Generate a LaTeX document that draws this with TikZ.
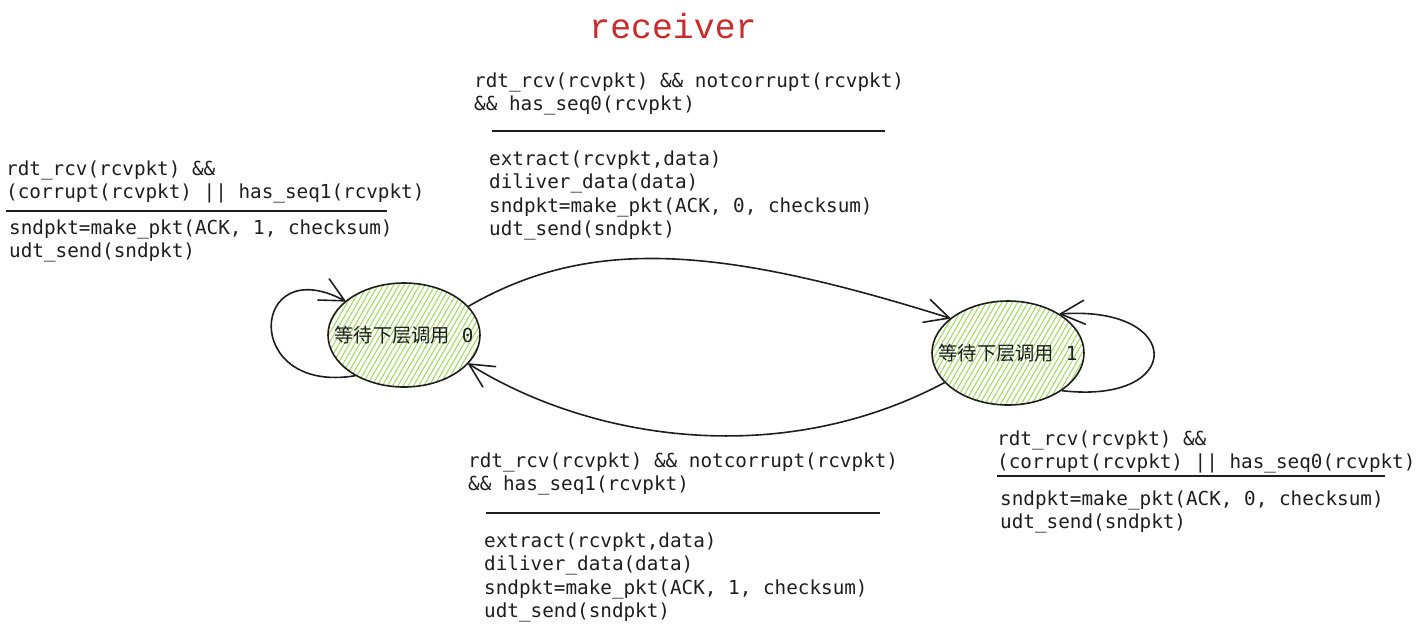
\documentclass[tikz,border=0pt]{standalone}
\usepackage{fontspec}
\setmonofont{DejaVu Sans Mono}
\newfontfamily\cjkfont{Noto Sans CJK SC}
\newfontfamily\titlefont{Liberation Mono}
\usetikzlibrary{arrows.meta,shapes.geometric,patterns.meta}
\definecolor{ink}{HTML}{1E1E1E}
\definecolor{hatch}{RGB}{165,216,100}
\definecolor{titlered}{HTML}{C92A2A}

\begin{document}
\begin{tikzpicture}[x=1pt,y=-1pt,
    state/.style={ellipse,draw=ink,line width=1.6pt,minimum width=152pt,minimum height=104pt,inner sep=0pt,
      pattern={Lines[angle=60,distance=4.5pt,line width=1.1pt]},pattern color=hatch,
      font=\fontsize{19.3}{23.6}\selectfont\ttfamily,text=ink},
    lbl/.style={anchor=base west,align=left,inner sep=0pt,text=ink,font=\fontsize{19.3}{23.6}\selectfont\ttfamily},
    rule/.style={draw=ink,line width=1.6pt},
    trans/.style={draw=ink,line width=1.6pt,-{Straight Barb[length=24pt,width=24pt,round]}}]
  \useasboundingbox (0,0) rectangle (1417,625);
  \node[text=titlered,font=\fontsize{34.8}{40}\selectfont\titlefont,anchor=base] (ttl) at (673,38) {receiver};
  % the two states
  \node[state] (s0) at (404,335) {\makebox[0pt]{{\cjkfont 等待下层调用} 0}};
  \node[state] (s1) at (1008,353) {\makebox[0pt]{{\cjkfont 等待下层调用} 1}};
  % transitions
  \draw[trans] (s0.24) .. controls (590,236) and (720,246) .. (s1.149);
  \draw[trans] (s1.205) .. controls (780,470) and (590,440) .. (s0.336);
  \draw[trans] (s0.220) .. controls (240,395) and (250,250) .. (s0.150);
  \draw[trans] (s1.325) .. controls (1185,405) and (1185,305) .. (s1.37);
  % 0 -> 1 (base = last line)
  \node[lbl] (g01) at (474,110.6) {rdt\_rcv(rcvpkt) \&\& notcorrupt(rcvpkt)\\\&\& has\_seq0(rcvpkt)};
  \draw[rule] (492,131) -- (885,131);
  \node[lbl] (a01) at (489,235.8) {extract(rcvpkt,data)\\diliver\_data(data)\\sndpkt=make\_pkt(ACK, 0, checksum)\\udt\_send(sndpkt)};
  % 0 -> 0
  \node[lbl] (g00) at (6,198.6) {rdt\_rcv(rcvpkt) \&\&\\(corrupt(rcvpkt) || has\_seq1(rcvpkt)};
  \draw[rule] (6,211) -- (387,211);
  \node[lbl] (a00) at (9,257.6) {sndpkt=make\_pkt(ACK, 1, checksum)\\udt\_send(sndpkt)};
  % 1 -> 0
  \node[lbl] (g10) at (468,490.6) {rdt\_rcv(rcvpkt) \&\& notcorrupt(rcvpkt)\\\&\& has\_seq1(rcvpkt)};
  \draw[rule] (486,513) -- (880,513);
  \node[lbl] (a10) at (484,617.8) {extract(rcvpkt,data)\\diliver\_data(data)\\sndpkt=make\_pkt(ACK, 1, checksum)\\udt\_send(sndpkt)};
  % 1 -> 1
  \node[lbl] (g11) at (997,468.6) {rdt\_rcv(rcvpkt) \&\&\\(corrupt(rcvpkt) || has\_seq0(rcvpkt)};
  \draw[rule] (997,476) -- (1385,476);
  \node[lbl] (a11) at (1000,528.6) {sndpkt=make\_pkt(ACK, 0, checksum)\\udt\_send(sndpkt)};
\end{tikzpicture}
\end{document}
